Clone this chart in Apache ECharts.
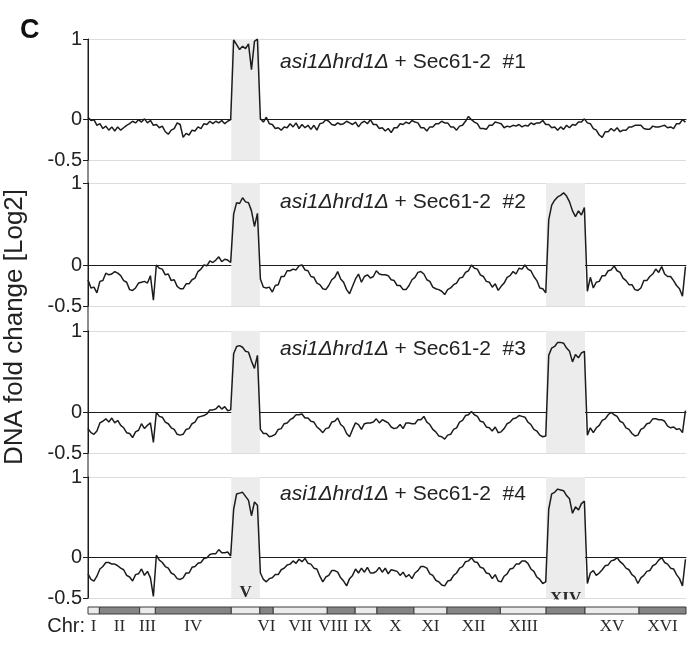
<!DOCTYPE html>
<html><head><meta charset="utf-8">
<script src="https://cdn.jsdelivr.net/npm/echarts@6/dist/echarts.min.js"></script>
<style>html,body{margin:0;padding:0;background:#fff}#c{width:687px;height:645px}</style>
</head><body><div id="c"></div>
<script>
// ---------- data ----------
const CHR_NAMES = ['I','II','III','IV','V','VI','VII','VIII','IX','X','XI','XII','XIII','XIV','XV','XVI'];
const CHR_LEN_KB = [230,813,317,1532,577,270,1091,563,440,746,667,1078,924,784,1091,948];
const BIN_KB = 60;
const PANEL_LABELS = ['#1','#2','#3','#4'];
const GAINED = [['V'],['V','XIV'],['V','XIV'],['V','XIV']];
const Y_LABELS = [1, 0, -0.5];

const P1 = [
0.03, -0.01, 0.00, -0.07, -0.05, -0.11, -0.08, -0.13, -0.09, -0.14,
-0.09, -0.13, -0.10, -0.07, -0.05, -0.02, -0.04, 0.00, -0.03, 0.01,
-0.04, -0.01, -0.07, -0.06, -0.10, -0.08, -0.15, -0.18, -0.13, -0.11,
-0.04, -0.06, -0.22, -0.17, -0.19, -0.13, -0.14, -0.09, -0.11, -0.05,
-0.06, -0.02, -0.05, -0.02, -0.04, -0.01, -0.05, -0.02, 0.00,
0.99, 0.93, 0.87, 0.91, 0.88, 0.94, 0.62, 0.97, 1.00,
0.01, -0.03,
0.03, -0.05, -0.06, -0.11, -0.10, -0.13, -0.09, -0.10, -0.05, -0.09,
-0.04, -0.11, -0.06, -0.10, -0.07, -0.12, -0.07, -0.13, -0.05, -0.04,
0.00, -0.02, -0.06, -0.07, -0.04, -0.06, -0.05, -0.02, -0.04, -0.06,
-0.03, -0.09, -0.04, -0.02, -0.05, 0.00, -0.06, -0.06, -0.11, -0.10,
-0.14, -0.11, -0.16, -0.10, -0.10, -0.05, -0.06, -0.03, -0.05, -0.01,
-0.03, -0.04, -0.10, -0.10, -0.14, -0.09, -0.09, -0.05, -0.05, -0.02,
-0.04, -0.04, -0.09, -0.09, -0.13, -0.08, -0.07, -0.02, 0.04, 0.00,
-0.03, -0.05, -0.11, -0.11, -0.12, -0.07, -0.07, -0.03, -0.04, -0.05,
-0.10, -0.08, -0.09, -0.07, -0.08, -0.06, -0.09, -0.07, -0.08, -0.04,
-0.06, -0.04, -0.04, -0.01, -0.06, -0.06, -0.10, -0.09, -0.13, -0.09,
-0.12, -0.07, -0.10, -0.06, -0.07, -0.03, -0.03, 0.01, -0.04, -0.05,
-0.11, -0.13, -0.19, -0.22, -0.15, -0.15, -0.11, -0.14, -0.10, -0.15,
-0.13, -0.13, -0.09, -0.09, -0.07, -0.07, -0.07, -0.11, -0.12, -0.12,
-0.08, -0.09, -0.09, -0.08, -0.07, -0.10, -0.09, -0.11, -0.05, -0.05, 0.00, -0.03
];

const P2 = [
-0.18, -0.28, -0.27, -0.34, -0.20, -0.19, -0.10, -0.12, -0.11, -0.08,
-0.10, -0.13, -0.19, -0.21, -0.30, -0.31, -0.28, -0.22, -0.21, -0.20,
-0.22, -0.13, -0.43, 0.00, -0.04, -0.05, -0.12, -0.11, -0.19, -0.18,
-0.26, -0.29, -0.29, -0.23, -0.23, -0.18, -0.16, -0.08, -0.05, 0.00,
-0.01, 0.05, 0.03, 0.06, 0.10, 0.04, 0.07, 0.06, 0.03,
0.62, 0.76, 0.75, 0.82, 0.77, 0.76, 0.66, 0.47, 0.63,
-0.17, -0.27,
-0.28, -0.27, -0.33, -0.25, -0.24, -0.14, -0.14, -0.07, -0.07, -0.05,
-0.06, -0.01, 0.00, -0.06, -0.07, -0.14, -0.15, -0.22, -0.24, -0.29,
-0.30, -0.25, -0.18, -0.15, -0.08, -0.17, -0.21, -0.30, -0.35, -0.26,
-0.17, -0.11, -0.21, -0.14, -0.12, -0.16, -0.14, -0.07, -0.11, -0.12,
-0.12, -0.13, -0.18, -0.19, -0.25, -0.25, -0.30, -0.30, -0.25, -0.18,
-0.15, -0.09, -0.08, -0.11, -0.18, -0.20, -0.27, -0.29, -0.30, -0.32,
-0.36, -0.30, -0.28, -0.24, -0.22, -0.16, -0.15, -0.09, -0.07, 0.00,
-0.04, -0.05, -0.12, -0.14, -0.20, -0.21, -0.27, -0.23, -0.31, -0.26,
-0.22, -0.15, -0.13, -0.08, -0.11, -0.04, -0.05, 0.00, -0.05, -0.07,
-0.14, -0.19, -0.28, -0.29, -0.34,
0.55, 0.73, 0.79, 0.83, 0.85, 0.88, 0.84, 0.77, 0.66, 0.59, 0.66, 0.61, 0.70,
-0.32, -0.15,
-0.28, -0.21, -0.20, -0.13, -0.13, -0.07, -0.06, -0.01, -0.07, -0.09,
-0.16, -0.19, -0.24, -0.24, -0.30, -0.31, -0.28, -0.19, -0.19, -0.14,
-0.11, -0.05, -0.09, -0.02, -0.11, -0.14, -0.14, -0.19, -0.25, -0.29, -0.38, -0.02
];

const P3 = [
-0.20, -0.25, -0.27, -0.23, -0.13, -0.11, -0.08, -0.12, -0.07, -0.13,
-0.10, -0.16, -0.19, -0.25, -0.26, -0.31, -0.24, -0.22, -0.14, -0.20,
-0.16, -0.13, -0.37, 0.00, -0.05, -0.06, -0.12, -0.14, -0.19, -0.21,
-0.27, -0.28, -0.27, -0.21, -0.20, -0.14, -0.12, -0.06, -0.05, -0.04,
-0.02, 0.03, 0.03, 0.04, 0.08, 0.04, 0.07, 0.02, 0.03,
0.72, 0.81, 0.82, 0.80, 0.75, 0.74, 0.63, 0.54, 0.70,
-0.21, -0.26,
-0.26, -0.30, -0.29, -0.27, -0.21, -0.20, -0.14, -0.13, -0.09, -0.07,
-0.03, -0.03, -0.02, -0.07, -0.07, -0.11, -0.12, -0.18, -0.21, -0.25,
-0.20, -0.19, -0.12, -0.11, -0.07, -0.15, -0.18, -0.26, -0.30, -0.21,
-0.13, -0.15, -0.21, -0.14, -0.13, -0.13, -0.12, -0.08, -0.13, -0.09,
-0.11, -0.13, -0.18, -0.20, -0.19, -0.15, -0.20, -0.13, -0.13, -0.14,
-0.14, -0.09, -0.09, -0.05, -0.12, -0.15, -0.21, -0.24, -0.29, -0.30,
-0.33, -0.28, -0.27, -0.21, -0.19, -0.12, -0.10, -0.04, -0.03, 0.01,
-0.03, -0.05, -0.11, -0.12, -0.18, -0.19, -0.23, -0.18, -0.25, -0.24,
-0.20, -0.14, -0.12, -0.08, -0.07, -0.04, -0.05, -0.06, -0.12, -0.15,
-0.21, -0.23, -0.28, -0.30, -0.29,
0.70, 0.79, 0.81, 0.86, 0.86, 0.85, 0.79, 0.75, 0.62, 0.71, 0.67, 0.73, 0.75,
-0.28, -0.19,
-0.25, -0.19, -0.16, -0.10, -0.08, -0.03, 0.00, -0.03, -0.05, -0.11,
-0.13, -0.19, -0.21, -0.26, -0.29, -0.28, -0.21, -0.19, -0.14, -0.13,
-0.08, -0.08, -0.09, -0.09, -0.11, -0.17, -0.19, -0.18, -0.21, -0.20, -0.25, 0.02
];

const P4 = [
-0.20, -0.27, -0.29, -0.23, -0.14, -0.11, -0.06, -0.06, -0.08, -0.08,
-0.10, -0.13, -0.15, -0.22, -0.24, -0.29, -0.21, -0.20, -0.14, -0.22,
-0.17, -0.25, -0.48, 0.03, -0.03, -0.06, -0.11, -0.13, -0.19, -0.21,
-0.26, -0.27, -0.25, -0.19, -0.19, -0.12, -0.11, -0.07, -0.06, -0.01,
0.00, 0.04, 0.05, 0.05, 0.10, 0.06, 0.06, 0.07, 0.02,
0.60, 0.79, 0.80, 0.81, 0.76, 0.71, 0.52, 0.69, 0.65,
-0.19, -0.27,
-0.30, -0.26, -0.25, -0.21, -0.21, -0.15, -0.13, -0.09, -0.08, -0.04,
-0.07, -0.02, -0.05, -0.01, -0.07, -0.08, -0.13, -0.14, -0.23, -0.30,
-0.24, -0.22, -0.16, -0.16, -0.18, -0.25, -0.29, -0.35, -0.26, -0.22,
-0.14, -0.19, -0.13, -0.18, -0.12, -0.19, -0.19, -0.17, -0.12, -0.18,
-0.13, -0.20, -0.15, -0.16, -0.17, -0.22, -0.18, -0.24, -0.21, -0.26,
-0.19, -0.16, -0.11, -0.11, -0.13, -0.20, -0.22, -0.28, -0.30, -0.34,
-0.35, -0.29, -0.28, -0.22, -0.19, -0.13, -0.11, -0.05, -0.04, 0.00,
-0.05, -0.06, -0.12, -0.13, -0.19, -0.20, -0.26, -0.21, -0.29, -0.30,
-0.23, -0.20, -0.14, -0.13, -0.08, -0.08, -0.04, -0.04, -0.07, -0.14,
-0.17, -0.24, -0.27, -0.32, -0.30,
0.60, 0.79, 0.81, 0.85, 0.84, 0.83, 0.77, 0.73, 0.55, 0.63, 0.59, 0.67, 0.70,
-0.32, -0.19,
-0.16, -0.22, -0.19, -0.15, -0.10, -0.09, -0.04, -0.03, 0.00, -0.05,
-0.08, -0.13, -0.15, -0.21, -0.24, -0.32, -0.25, -0.22, -0.17, -0.16,
-0.10, -0.08, -0.03, 0.00, -0.06, -0.08, -0.13, -0.14, -0.21, -0.26, -0.35, -0.02
];

const PANELS = [P1, P2, P3, P4];

// ---------- layout ----------
const FONT_SANS = '"Liberation Sans", Arial, Helvetica, sans-serif';
const FONT_SERIF = '"Liberation Serif", "Times New Roman", serif';
const INK = '#1c1c1c';
const LEFT = 88, WIDTH = 598;
const BOXES = [{top:39,height:121},{top:183,height:123},{top:331,height:122},{top:477,height:121}];
const TITLE_Y = [60, 200, 347, 492];
const LABEL_NUDGE = {VIII: -8, IX: -3};

const starts = []; let acc = 0;
CHR_LEN_KB.forEach(l => { starts.push(acc); acc += l; });
const TOTAL = acc;

const grid = BOXES.map(b => ({left: LEFT, width: WIDTH, top: b.top, height: b.height}));
grid.push({left: LEFT, width: WIDTH, top: 607, height: 7});

const xAxis = [], yAxis = [], series = [], title = [];
PANELS.forEach((vals, k) => {
  xAxis.push({gridIndex: k, type: 'value', min: 0, max: TOTAL,
    axisLine: {show: true, onZero: true, lineStyle: {color: INK, width: 1}},
    axisTick: {show: false}, axisLabel: {show: false}, splitLine: {show: false}});
  yAxis.push({gridIndex: k, type: 'value', min: -0.5, max: 1, interval: 0.5,
    axisLine: {show: true, lineStyle: {color: INK, width: 1}},
    axisTick: {show: true, length: 5, customValues: Y_LABELS, lineStyle: {color: INK}},
    axisLabel: {customValues: Y_LABELS, fontSize: 20, color: '#222', fontFamily: FONT_SANS, margin: 6,
      formatter: v => String(v)},
    splitLine: {show: true, lineStyle: {color: '#dcdcdc', width: 1}}});
  series.push({type: 'line', xAxisIndex: k, yAxisIndex: k, showSymbol: false, z: 5,
    data: vals.map((v, i) => [i * BIN_KB, v]),
    lineStyle: {color: INK, width: 1.5},
    markArea: {silent: true, itemStyle: {color: '#ececec'},
      data: GAINED[k].map(n => { const j = CHR_NAMES.indexOf(n); return [{xAxis: starts[j]}, {xAxis: starts[j] + CHR_LEN_KB[j]}]; })}});
  title.push({text: '{i|asi1\u0394hrd1\u0394} + Sec61-2  ' + PANEL_LABELS[k], left: 275, top: TITLE_Y[k] - 13,
    textStyle: {fontSize: 21, fontWeight: 'normal', color: '#222', fontFamily: FONT_SANS,
      rich: {i: {fontStyle: 'italic', fontSize: 21, color: '#222', fontFamily: FONT_SANS}}}});
});

// chromosome bar grid
xAxis.push({gridIndex: 4, type: 'value', min: 0, max: TOTAL, show: false});
yAxis.push({gridIndex: 4, type: 'value', min: 0, max: 1, show: false});
const gainedAny = GAINED[GAINED.length - 1];
series.push({type: 'custom', xAxisIndex: 4, yAxisIndex: 4, clip: false, z: 4,
  data: CHR_NAMES.map((n, i) => [starts[i], starts[i] + CHR_LEN_KB[i], i]),
  renderItem: (params, api) => {
    const s = api.value(0), e = api.value(1), idx = api.value(2);
    const a = api.coord([s, 1]), b = api.coord([e, 0]);
    const name = CHR_NAMES[idx];
    const dark = idx % 2 === 1;
    const gained = gainedAny.indexOf(name) >= 0;
    const cx = (a[0] + b[0]) / 2 + (LABEL_NUDGE[name] || 0);
    return {type: 'group', children: [
      {type: 'rect', shape: {x: a[0], y: a[1], width: b[0] - a[0], height: b[1] - a[1]},
        style: {fill: dark ? '#858585' : '#ebebeb', stroke: '#3a3a3a', lineWidth: 1}},
      {type: 'text', x: cx, y: gained ? a[1] - (name === 'V' ? 14 : 8) : b[1] + 13,
        style: {text: name, textAlign: 'center', textVerticalAlign: 'middle',
          font: (gained ? 'bold 17px ' : '17px ') + FONT_SERIF, fill: '#2a2a2a'}}
    ]};
  }});

const graphic = [
  {type: 'text', x: 20, y: 31, style: {text: 'C', font: 'bold 27px ' + FONT_SANS, fill: '#111', textVerticalAlign: 'middle'}},
  {type: 'text', x: 15, y: 327, rotation: Math.PI / 2,
    style: {text: 'DNA fold change [Log2]', font: '26px ' + FONT_SANS, fill: '#222', textAlign: 'center', textVerticalAlign: 'middle'}},
  {type: 'text', x: 85, y: 626, style: {text: 'Chr:', font: '20px ' + FONT_SANS, fill: '#222', textAlign: 'right', textVerticalAlign: 'middle'}},
  {type: 'line', shape: {x1: LEFT, y1: 39, x2: LEFT, y2: 598}, style: {stroke: INK, lineWidth: 1}, z: 10},
  {type: 'rect', shape: {x: 520, y: 599.5, width: 80, height: 6.5}, style: {fill: '#fff'}, z: 100}
];

const chart = echarts.init(document.getElementById('c'), null, {renderer: 'canvas'});
chart.setOption({animation: false, backgroundColor: '#fff', grid, xAxis, yAxis, series, title, graphic});
</script></body></html>
